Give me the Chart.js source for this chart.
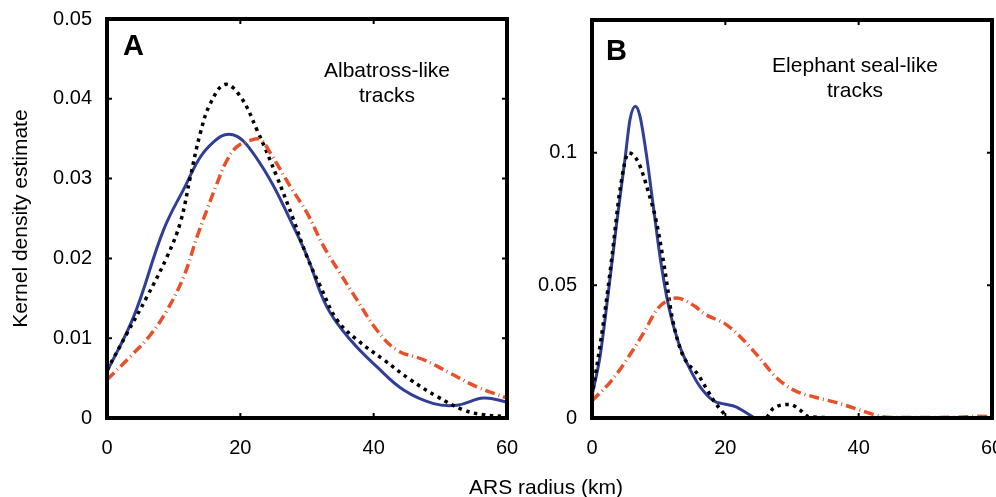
<!DOCTYPE html>
<html>
<head>
<meta charset="utf-8">
<script src="https://cdn.jsdelivr.net/npm/chart.js@4"></script>
<style>
  html, body { margin: 0; padding: 0; background: #fff; overflow: hidden; }
  body { width: 996px; height: 497px; position: relative; font-family: "Liberation Sans", Arial, sans-serif; }
  #boxA { position: absolute; left: 0; top: 0; width: 520px; height: 497px; }
  #boxB { position: absolute; left: 520px; top: 0; width: 490px; height: 497px; }
  #xtitle { position: absolute; left: 416px; width: 260px; top: 475px; text-align: center; font-size: 21px; color: #000; white-space: nowrap; }
</style>
</head>
<body>
<div id="boxA"><canvas id="chartA"></canvas></div>
<div id="boxB"><canvas id="chartB"></canvas></div>
<div id="xtitle">ARS radius (km)</div>
<script>
// Panel A - albatross-like tracks
const blueAx = [0, 4, 8.5, 11.7, 14, 16, 17.7, 19.5, 21.2, 24.5, 27.5, 30, 33, 36.5, 40.5, 44.5, 49, 52.5, 56.5, 60];
const blueAy = [0.0058, 0.0127, 0.0236, 0.029, 0.0327, 0.0346, 0.0355, 0.0353, 0.034, 0.0298, 0.0248, 0.0203, 0.0139, 0.0098, 0.0064, 0.0035, 0.0018, 0.0016, 0.0025, 0.002];
const blackAx = [0, 3, 6, 9, 11, 12.5, 14, 15.5, 17.7, 20, 22.5, 25.5, 28, 30, 32, 34.5, 37.5, 41.5, 45.5, 49.5, 53.5, 56.5, 59.5];
const blackAy = [0.006, 0.0106, 0.0152, 0.0202, 0.0245, 0.0302, 0.0357, 0.0394, 0.0418, 0.0403, 0.0361, 0.0302, 0.0248, 0.0202, 0.0165, 0.0123, 0.0098, 0.0073, 0.0048, 0.0027, 0.001, 0.0004, 0.0002];
const redAx = [0, 3.5, 6.5, 9, 11.5, 13.5, 15, 16.5, 18, 19.5, 21.5, 23, 24.5, 27.5, 30, 32.5, 35, 37.5, 40.5, 43.5, 47.5, 51.5, 55.5, 60];
const redAy = [0.0048, 0.0077, 0.0104, 0.0135, 0.0177, 0.0227, 0.0261, 0.0294, 0.0323, 0.034, 0.0348, 0.0349, 0.0332, 0.029, 0.0257, 0.0215, 0.0181, 0.0148, 0.011, 0.0085, 0.0073, 0.0056, 0.0039, 0.0025];

// Panel B - elephant seal-like tracks
const blueBx = [0, 1.2, 2.5, 3.7, 5, 5.7, 6.5, 7.2, 8.2, 9.2, 10.2, 11.5, 13, 15, 16.2, 18.2, 20, 21.5, 23.7, 24.5, 30, 40, 50, 60];
const blueBy = [0.0085, 0.0231, 0.0483, 0.0735, 0.0986, 0.1125, 0.1175, 0.1137, 0.0986, 0.0797, 0.0609, 0.042, 0.0282, 0.0169, 0.0118, 0.0065, 0.0052, 0.0043, 0.0011, 0, 0, 0, 0, 0];
const blackBx = [0, 1.7, 3, 4.2, 5.5, 7, 8.5, 9.7, 11, 12, 13.5, 16, 18.2, 20, 20.5, 26, 27.2, 29.7, 31.2, 32.5, 40, 50, 60];
const blackBy = [0.008, 0.0357, 0.0609, 0.086, 0.0999, 0.0961, 0.0848, 0.0735, 0.0546, 0.0382, 0.0244, 0.016, 0.0068, 0.0011, 0, 0, 0.0037, 0.0051, 0.003, 0.0005, 0, 0, 0];
const redBx = [0, 3, 5.5, 8, 9.7, 11.5, 12.7, 15.5, 16.7, 20.2, 22.7, 25.2, 27.5, 30.2, 33.5, 36.7, 40.2, 43.5, 46, 50, 55, 58, 60];
const redBy = [0.0065, 0.0143, 0.0231, 0.0332, 0.0408, 0.0445, 0.0452, 0.042, 0.0395, 0.0351, 0.0294, 0.0225, 0.0156, 0.0106, 0.0078, 0.0058, 0.003, 0.0005, 0.0002, 0.0002, 0.0003, 0.0007, 0.0005];

const xTicks = [0, 20, 40, 60];

const BLUE = "#2f3f98";
const RED = "#e8502a";
const FONT = "'Liberation Sans', Arial, sans-serif";

function pts(xs, ys) {
  return xs.map((x, i) => ({ x: x, y: ys[i] }));
}

function makeSets(bx, by, kx, ky, rx, ry, smooth) {
  const common = { showLine: true, pointRadius: 0, fill: false, borderCapStyle: "butt" };
  if (smooth) common.tension = 0.4;
  else common.cubicInterpolationMode = "monotone";
  return [
    { ...common, data: pts(rx, ry), borderColor: RED, borderWidth: 3.5, borderDash: [10, 4, 1, 4] },
    { ...common, data: pts(kx, ky), borderColor: "#000", borderWidth: 3.5, borderDash: [3.5, 4.5] },
    { ...common, data: pts(bx, by), borderColor: BLUE, borderWidth: 3 },
  ];
}

// frame, inner ticks and panel labels
const framePlugin = {
  id: "frame",
  afterDraw(chart, args, opts) {
    const { ctx, chartArea: a, scales } = chart;
    ctx.save();
    ctx.strokeStyle = "#000";
    ctx.lineWidth = 2;
    scales.y.ticks.forEach((t) => {
      const y = scales.y.getPixelForValue(t.value);
      ctx.beginPath();
      ctx.moveTo(a.left, y); ctx.lineTo(a.left + 5, y);
      ctx.moveTo(a.right, y); ctx.lineTo(a.right - 5, y);
      ctx.stroke();
    });
    scales.x.ticks.forEach((t) => {
      const x = scales.x.getPixelForValue(t.value);
      ctx.beginPath();
      ctx.moveTo(x, a.bottom); ctx.lineTo(x, a.bottom - 5);
      ctx.moveTo(x, a.top); ctx.lineTo(x, a.top + 5);
      ctx.stroke();
    });
    ctx.lineWidth = 4;
    ctx.strokeRect(a.left, a.top, a.right - a.left, a.bottom - a.top);

    ctx.fillStyle = "#000";
    ctx.textAlign = "left";
    ctx.font = "bold 29px " + FONT;
    ctx.fillText(opts.letter, a.left + opts.letterDx, opts.letterY);
    ctx.textAlign = "center";
    ctx.font = "21px " + FONT;
    opts.lines.forEach((s, i) => ctx.fillText(s, opts.textX, opts.textY + i * 25));
    ctx.restore();
  },
};

function makeChart(id, datasets, yMax, yStep, yWidth, topPad, rightPad, yTitle, panel) {
  return new Chart(document.getElementById(id), {
    type: "scatter",
    data: { datasets: datasets },
    plugins: [framePlugin],
    options: {
      responsive: true,
      maintainAspectRatio: false,
      animation: false,
      layout: { padding: { top: topPad, right: rightPad, left: 0, bottom: 0 } },
      plugins: { legend: { display: false }, tooltip: { enabled: false }, frame: panel },
      scales: {
        x: {
          type: "linear",
          min: 0,
          max: 60,
          afterBuildTicks: (s) => { s.ticks = xTicks.map((v) => ({ value: v })); },
          afterFit: (s) => { s.height = 79; s.paddingLeft = 0; s.paddingRight = 0; },
          grid: { display: false, drawTicks: false },
          border: { display: false },
          ticks: { color: "#000", padding: 18, maxRotation: 0, font: { size: 20, family: FONT } },
        },
        y: {
          min: 0,
          max: yMax,
          afterFit: (s) => { s.width = yWidth; s.paddingTop = 0; s.paddingBottom = 0; },
          grid: { display: false, drawTicks: false },
          border: { display: false },
          ticks: {
            stepSize: yStep,
            color: "#000",
            padding: 15,
            font: { size: 20, family: FONT },
            callback: (v) => (v > 0.12 ? "" : String(Math.round(v * 1000) / 1000)),
          },
          title: {
            display: !!yTitle,
            text: yTitle,
            color: "#000",
            padding: { top: 9, bottom: 0 },
            font: { size: 21, family: FONT },
          },
        },
      },
    },
  });
}

makeChart("chartA", makeSets(blueAx, blueAy, blackAx, blackAy, redAx, redAy, true), 0.05, 0.01, 107, 19, 13,
  "Kernel density estimate",
  { letter: "A", letterDx: 16, letterY: 55, lines: ["Albatross-like", "tracks"], textX: 387, textY: 77 });

makeChart("chartB", makeSets(blueBx, blueBy, blackBx, blackBy, redBx, redBy, false), 0.15, 0.05, 72, 20, 18,
  "",
  { letter: "B", letterDx: 14, letterY: 60, lines: ["Elephant seal-like", "tracks"], textX: 335, textY: 72 });
</script>
</body>
</html>
